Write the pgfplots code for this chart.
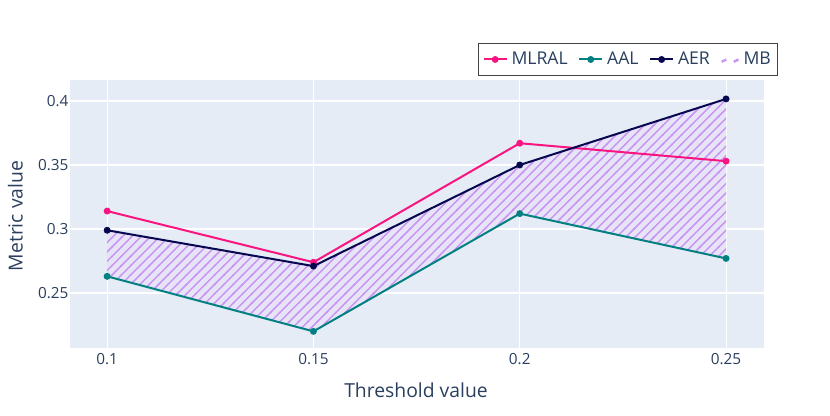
\documentclass[border=0pt]{standalone}
\usepackage{pgfplots}
\pgfplotsset{compat=1.18}
\usepgfplotslibrary{fillbetween}
\usetikzlibrary{patterns}
\usepackage{fontspec}
\setmainfont{Open Sans}
\definecolor{txt}{HTML}{2A3F5F}
\definecolor{bg}{HTML}{E5ECF6}
\definecolor{cmlral}{RGB}{250,20,128}
\definecolor{caal}{RGB}{0,128,128}
\definecolor{caer}{RGB}{8,8,80}
\definecolor{hatch}{RGB}{200,150,240}
\pgfdeclarepatternformonly{myhatch}{\pgfpoint{-1pt}{-1pt}}{\pgfpoint{8pt}{8pt}}{\pgfpoint{7pt}{7pt}}{%
  \pgfsetlinewidth{1.1pt}%
  \pgfpathmoveto{\pgfpoint{-0.5pt}{-0.5pt}}%
  \pgfpathlineto{\pgfpoint{7.5pt}{7.5pt}}%
  \pgfusepath{stroke}}
\begin{document}
\begin{tikzpicture}
\begin{axis}[
  at={(52.5pt,50.25pt)}, anchor=south west,
  scale only axis, width=520.5pt, height=201pt,
  set layers,
  xmin=0.091, xmax=0.2592, ymin=0.207, ymax=0.4164,
  axis background/.style={fill=bg},
  axis line style={draw=none},
  grid=major, major grid style={white, line width=0.8pt},
  tick style={draw=none},
  xtick={0.1,0.15,0.2,0.25}, xticklabels={0.1,0.15,0.2,0.25},
  ytick={0.25,0.3,0.35,0.4}, yticklabels={0.25,0.3,0.35,0.4},
  ticklabel style={font=\fontsize{11.5}{13}\selectfont, text=txt},
  yticklabel style={inner sep=1pt},
  xticklabel style={inner sep=1pt, yshift=-3pt},
  legend columns=4,
  legend style={at={(axis description cs:1.0202,1.138)}, anchor=north east,
    draw={rgb,255:red,68;green,68;blue,68}, fill=white, line width=0.75pt,
    font=\fontsize{13.2}{15}\selectfont, text=txt,
    /tikz/every even column/.append style={column sep=6pt},
    /tikz/every odd column/.append style={column sep=1pt},
    inner xsep=3pt, inner ysep=4.5pt},
  legend cell align=left,
]
\addplot[cmlral, line width=1.5pt, mark=*, mark size=1.8pt] coordinates {(0.1,0.314) (0.15,0.274) (0.2,0.367) (0.25,0.353)};
\addlegendentry{MLRAL}
\addplot[name path=aal, caal, line width=1.5pt, mark=*, mark size=1.8pt] coordinates {(0.1,0.263) (0.15,0.220) (0.2,0.312) (0.25,0.277)};
\addlegendentry{AAL}
\addplot[name path=aer, caer, line width=1.5pt, mark=*, mark size=1.8pt] coordinates {(0.1,0.299) (0.15,0.271) (0.2,0.350) (0.25,0.4016)};
\addlegendentry{AER}
\addplot[fill={rgb,255:red,231;green,228;blue,248}, draw=none,
  postaction={pattern=myhatch, pattern color=hatch},
  legend image code/.code={
    \draw[hatch, line width=1.8pt] (0.08cm,-0.06cm)--(0.2cm,0.0cm);
    \draw[hatch, line width=1.8pt] (0.4cm,-0.06cm)--(0.52cm,0.0cm);}]
  fill between[of=aer and aal];
\addlegendentry{MB}
\end{axis}
\node[text=txt, font=\fontsize{14.5}{16}\selectfont] at (312pt,18.75pt) {Threshold value};
\node[text=txt, font=\fontsize{14.5}{16}\selectfont, rotate=90] at (11.5pt,149.25pt) {Metric value};
\path (0,0) rectangle (622.5pt,311.25pt);
\end{tikzpicture}
\end{document}
